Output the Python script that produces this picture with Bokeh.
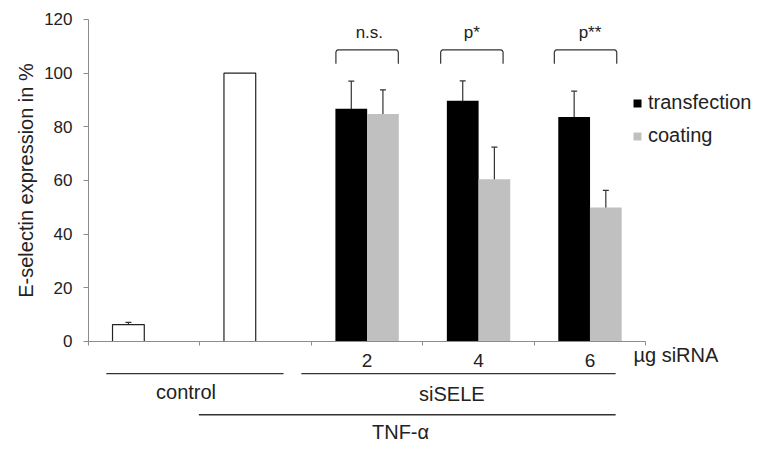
import math
from bokeh.plotting import figure
from bokeh.models import (Range1d, FixedTicker, ColumnDataSource, Whisker, TeeHead,
                          Legend, LegendItem)
from bokeh.core.properties import value
from bokeh.embed import file_html
from bokeh.resources import INLINE

# ---------------- data ----------------
single_labels = ["control", "TNF-α"]
single_values = [6.3, 100.0]
single_errors = [0.8, 0.0]

dose_labels = ["2", "4", "6"]
transfection = [86.7, 89.7, 83.7]
transfection_err = [10.3, 7.4, 9.6]
coating = [84.8, 60.5, 49.9]
coating_err = [9.0, 11.9, 6.4]
significance = ["n.s.", "p*", "p**"]

y_ticks = [0, 20, 40, 60, 80, 100, 120]
y_title = "E-selectin expression in %"
unit_label = "µg siRNA"
group_labels = ["control", "siSELE", "TNF-α"]

# ---------------- layout constants ----------------
FONT = "Liberation Sans"
TXT = "#222222"
AX = "#8c8c8c"
n_cat = len(single_labels) + len(dose_labels)
off = 0.142
bw = 0.285

bracket_shift = [0.0, -0.06, -0.04]
sig_shift = [0.02, -0.06, 0.0]

group_line_start = [0.16, 1.91, 0.99]
group_line_end = [1.75, 4.73, 4.73]
group_line_y = [-12.0, -12.0, -27.3]
group_text_x = [0.875, 3.26, 2.80]
group_text_y = [-18.9, -19.4, -33.8]

p = figure(frame_width=756, frame_height=445, output_backend="svg", toolbar_location=None,
           x_range=Range1d(-0.7538, 6.03), y_range=Range1d(-38.76, 127.08),
           min_border_left=4, min_border_right=4, min_border_top=0, min_border_bottom=4)
p.outline_line_color = None
p.xgrid.visible = False
p.ygrid.visible = False
p.background_fill_color = "white"
p.border_fill_color = "white"

# bars
x_single = [i + 0.5 - off for i in range(len(single_labels))]
p.vbar(x=x_single, top=single_values, width=bw, fill_color="white",
       line_color="#222222", line_width=1.2)
base = len(single_labels)
x_tr = [base + i + 0.5 - off for i in range(len(dose_labels))]
x_co = [base + i + 0.5 + off for i in range(len(dose_labels))]
r_tr = p.vbar(x=x_tr, top=transfection, width=bw, fill_color="#000000", line_color=None)
r_co = p.vbar(x=x_co, top=coating, width=bw, fill_color="#c0c0c0", line_color=None)

# error bars
ex, elo, ehi = [], [], []
for xs, vals, errs in [(x_single, single_values, single_errors),
                       (x_tr, transfection, transfection_err),
                       (x_co, coating, coating_err)]:
    for x, v, e in zip(xs, vals, errs):
        if e > 0:
            ex.append(x); elo.append(v - e); ehi.append(v + e)
esrc = ColumnDataSource(dict(x=ex, lower=elo, upper=ehi))
wh = Whisker(source=esrc, base="x", lower="lower", upper="upper",
             line_color="#333333", line_width=1.2,
             upper_head=TeeHead(size=6, line_color="#333333", line_width=1.2),
             lower_head=TeeHead(size=6, line_color="#333333", line_width=1.2))
p.add_layout(wh)

# significance brackets
bxs, bys = [], []
for i in range(len(dose_labels)):
    l = base + i + 0.22 + bracket_shift[i]
    r = base + i + 0.78 + bracket_shift[i]
    bxs.append([l, l, l + 0.008, l + 0.02, r - 0.02, r - 0.008, r, r])
    bys.append([103.5, 107.9, 108.5, 108.7, 108.7, 108.5, 107.9, 103.5])
p.multi_line(xs=bxs, ys=bys, line_color="#333333", line_width=1.2)
p.text(x=[base + i + 0.5 + sig_shift[i] for i in range(len(dose_labels))],
       y=[115.2] * len(dose_labels),
       text=significance, text_align="center", text_baseline="middle",
       text_font=value(FONT), text_font_size="17px", text_color=TXT)

# y axis at x = 0
p.yaxis.fixed_location = 0
p.yaxis.ticker = FixedTicker(ticks=y_ticks)
p.yaxis.bounds = (y_ticks[0], y_ticks[-1])
p.yaxis.major_label_text_font = FONT
p.yaxis.major_label_text_font_size = "17px"
p.yaxis.major_label_text_color = TXT
p.yaxis.major_label_standoff = 11
p.yaxis.axis_line_color = AX
p.yaxis.major_tick_line_color = AX
p.yaxis.major_tick_out = 5
p.yaxis.major_tick_in = 0
p.yaxis.minor_tick_line_color = None

# y title, centred on the 0..120 axis
p.text(x=[-0.565], y=[(y_ticks[0] + y_ticks[-1]) / 2], text=[y_title], angle=math.pi / 2,
       text_align="center", text_baseline="middle",
       text_font=value(FONT), text_font_size="20px", text_color=TXT)

# x axis at y = 0: separators as minor ticks, dose labels as major labels
dose_pos = [base + i + 0.5 for i in range(len(dose_labels))]
p.xaxis.fixed_location = 0
p.xaxis.bounds = (0, n_cat)
p.xaxis.ticker = FixedTicker(ticks=dose_pos, minor_ticks=list(range(n_cat + 1)))
p.xaxis.major_label_overrides = {pos: lab for pos, lab in zip(dose_pos, dose_labels)}
p.xaxis.major_tick_out = 0
p.xaxis.major_tick_in = 0
p.xaxis.minor_tick_out = 4
p.xaxis.minor_tick_in = 0
p.xaxis.minor_tick_line_color = AX
p.xaxis.axis_line_color = AX
p.xaxis.major_label_text_font = FONT
p.xaxis.major_label_text_font_size = "19px"
p.xaxis.major_label_text_color = TXT
p.xaxis.major_label_standoff = 9

# unit label
p.text(x=[n_cat - 0.11], y=[-5.2], text=[unit_label], text_align="left", text_baseline="middle",
       text_font=value(FONT), text_font_size="20px", text_color=TXT)

# group lines and labels below axis
p.segment(x0=group_line_start, y0=group_line_y, x1=group_line_end, y1=group_line_y,
          line_color="#333333", line_width=1.3)
p.text(x=group_text_x, y=group_text_y, text=group_labels, text_align="center",
       text_baseline="middle", text_font=value(FONT), text_font_size="20px", text_color=TXT)

# legend
legend = Legend(items=[LegendItem(label="transfection", renderers=[r_tr]),
                       LegendItem(label="coating", renderers=[r_co])],
                location=(628, 298), glyph_width=10, glyph_height=10, label_height=22,
                label_standoff=6, spacing=10, padding=0, margin=0,
                border_line_color=None, background_fill_alpha=0,
                label_text_font=FONT, label_text_font_size="20px", label_text_color=TXT)
p.add_layout(legend)

open("out.html", "w").write(file_html(p, INLINE))
